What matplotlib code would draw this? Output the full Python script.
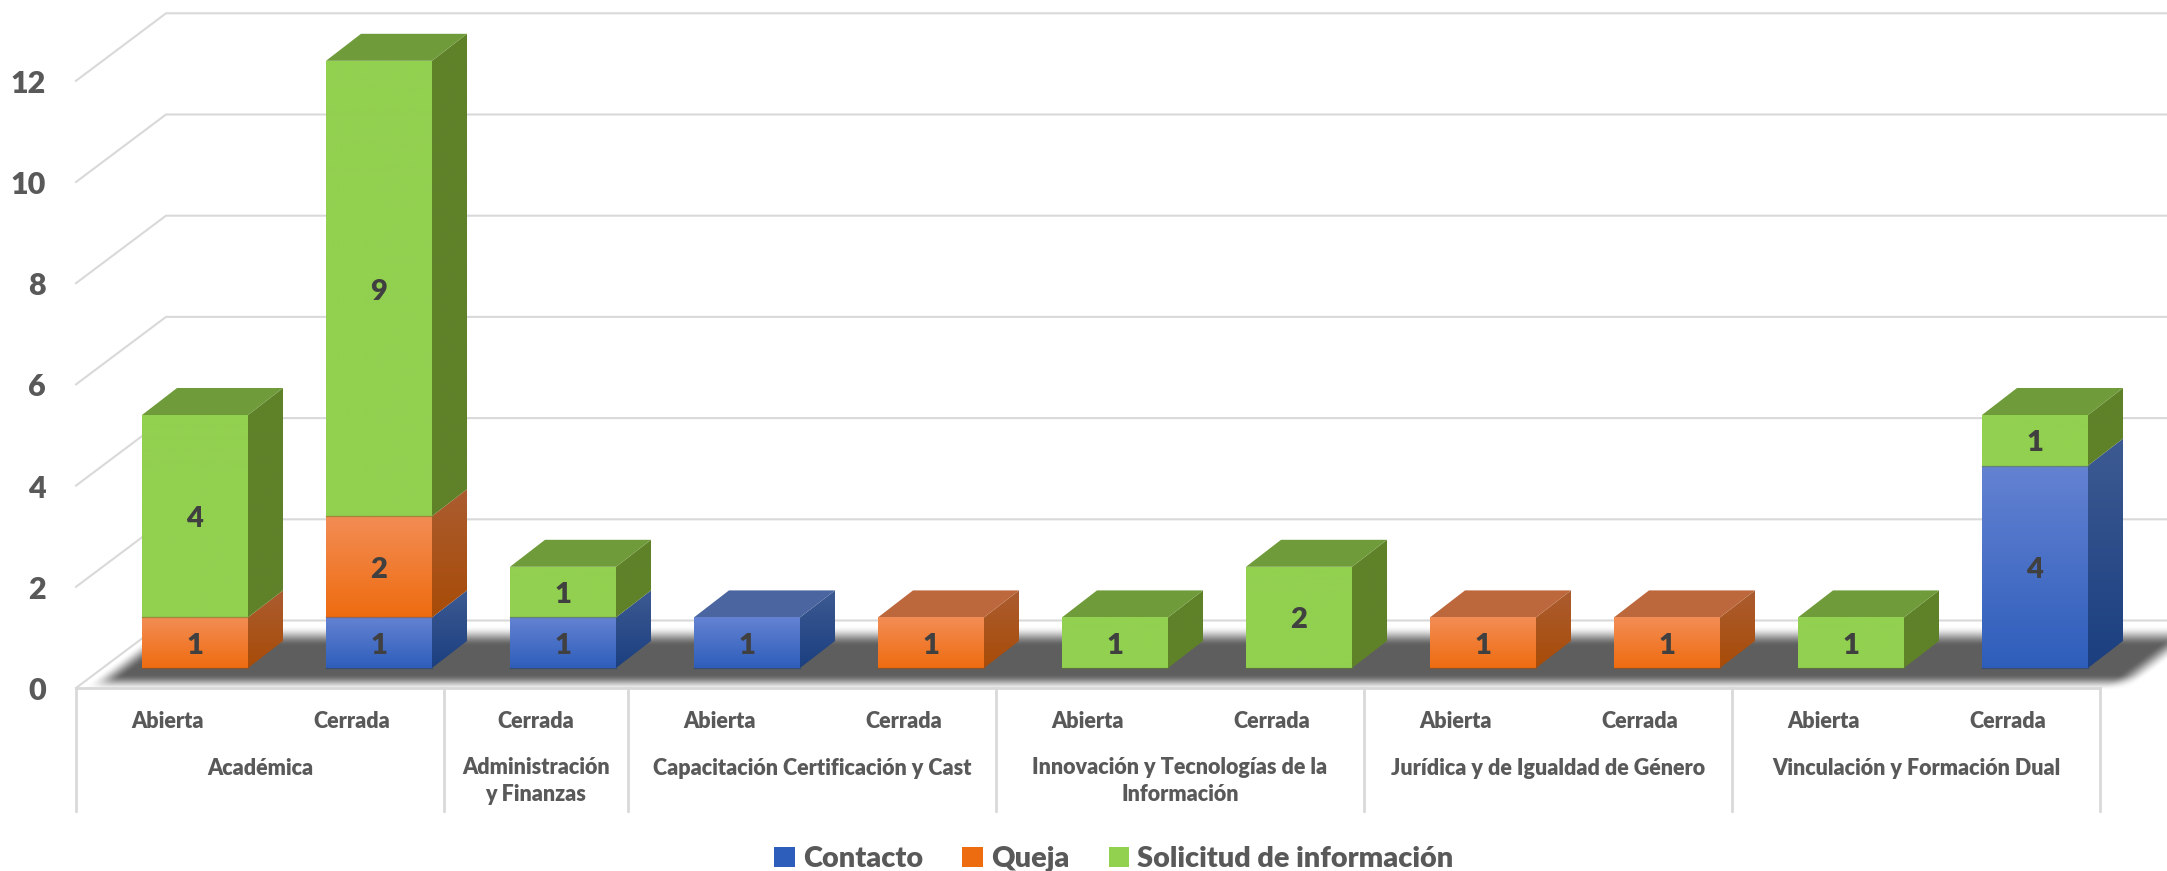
#!/usr/bin/env python3
import numpy as np
import matplotlib
matplotlib.use("Agg")
import matplotlib.pyplot as plt
from matplotlib.patches import Polygon, Patch

plt.rcParams['font.family'] = ['Lato', 'DejaVu Sans']

# data
estados = ["Abierta", "Cerrada", "Cerrada", "Abierta", "Cerrada", "Abierta",
           "Cerrada", "Abierta", "Cerrada", "Abierta", "Cerrada"]
contacto = [0, 1, 1, 1, 0, 0, 0, 0, 0, 0, 4]
queja = [1, 2, 0, 0, 1, 0, 0, 1, 1, 0, 0]
solicitud = [4, 9, 1, 0, 0, 1, 2, 0, 0, 1, 1]
grupos = ["Académica", "Administración\ny Finanzas", "Capacitación Certificación y Cast",
          "Innovación y Tecnologías de la\nInformación", "Jurídica y de Igualdad de Género",
          "Vinculación y Formación Dual"]
grupo_n = [2, 1, 2, 2, 2, 2]
y_ticks = [0, 2, 4, 6, 8, 10, 12]
series = ["Contacto", "Queja", "Solicitud de información"]

# colours: front (top, bottom), side (top, bottom), lid
FRONT = [("#6482d2", "#2e5ebb"), ("#f38d55", "#ee6c10"), ("#92d050", "#92d050")]
SIDE = [("#3d5a92", "#1b3f80"), ("#ab5c30", "#a84c08"), ("#5f8229", "#5f8229")]
LID = ["#4a659f", "#bd683c", "#6f9b3a"]

# layout, pixels of the 2167x871 image
W, H = 2167, 871
STEP = 184.0    # px per bar
UNIT = 50.6     # px per value unit
X0 = 195.0      # px centre of first bar
Y0 = 668.0      # px of value 0 on the bars' front plane
BAR_W = 106.0 / STEP
DX = 35.0 / STEP    # bar depth
DY = 27.0 / UNIT
FLOOR_DY = 20.0 / UNIT      # the chart's front edge sits below the bars
WALL_DX = 90.0 / STEP
WALL_DY = 67.5 / UNIT
LEFT = -119.0 / STEP    # front left corner of the floor
GRID = "#d9d9d9"
WEIGHT = 800
TXT = "#595959"
TEXT_DROP = 3.0 / UNIT  # lato sits a bit high with va=center


def to_x(px):
    return (px - X0) / STEP


def to_y(px):
    return (Y0 - px) / UNIT


def smooth(t):
    t = np.clip(t, 0, 1)
    return t * t * (3 - 2 * t)


def gradient_face(ax, pts, cols, zorder):
    # polygon filled with a vertical gradient
    pts = np.array(pts)
    c0 = np.array(matplotlib.colors.to_rgb(cols[0]))
    c1 = np.array(matplotlib.colors.to_rgb(cols[1]))
    t = np.linspace(0, 1, 64)[:, None]
    img = (c0 * (1 - t) + c1 * t)[:, None, :]
    im = ax.imshow(img, extent=(pts[:, 0].min(), pts[:, 0].max(), pts[:, 1].min(), pts[:, 1].max()),
                   origin="upper", aspect="auto", zorder=zorder, interpolation="bilinear")
    clip = Polygon(pts, closed=True, transform=ax.transData)
    im.set_clip_path(clip)


def draw_bar(ax, i, base, val, s, zorder):
    l = i - BAR_W / 2
    r = i + BAR_W / 2
    top = base + val
    gradient_face(ax, [(r, base), (r + DX, base + DY), (r + DX, top + DY), (r, top)], SIDE[s], zorder)
    gradient_face(ax, [(l, base), (r, base), (r, top), (l, top)], FRONT[s], zorder + 0.1)
    ax.plot([l, r], [base, base], color=SIDE[s][1], lw=1, alpha=0.5, zorder=zorder + 0.2)
    ax.text(i, base + val / 2.0 - TEXT_DROP, str(val), ha="center", va="center", fontsize=21,
            fontweight=WEIGHT, color="#404040", zorder=zorder + 0.3)


def main():
    fig = plt.figure(figsize=(W / 100, H / 100), dpi=100)
    ax = fig.add_axes([0, 0, 1, 1])
    ax.axis("off")
    xmin, xmax = to_x(0), to_x(W)
    ymin, ymax = to_y(H), to_y(0)

    right = LEFT + len(estados)

    # walls
    for v in y_ticks:
        yf = v - FLOOR_DY
        ax.plot([LEFT, LEFT + WALL_DX, xmax], [yf, yf + WALL_DY, yf + WALL_DY], color=GRID,
                lw=1.5, zorder=1, solid_joinstyle="miter")
        ax.text(to_x(46), yf - TEXT_DROP, str(v), ha="right", va="center", fontsize=22,
                fontweight=WEIGHT, color=TXT)

    # shadow on the floor
    xs = np.arange(0, W, 1.0)
    ys = np.arange(600, 700, 1.0)
    px, py = np.meshgrid(xs, ys)
    slope = 90.0 / 67.5
    off = (688 - py) * slope
    a = smooth((py - 626) / 20.0) * smooth((690 - py) / 16.0)
    a = a * smooth((px - (80 + off)) / 28.0) * smooth(((2130 + off) - px) / 30.0)
    rgba = np.zeros(px.shape + (4,))
    rgba[..., :3] = 0.37
    rgba[..., 3] = a
    ax.imshow(rgba, extent=(to_x(0), to_x(W), to_y(700), to_y(600)), origin="upper",
              aspect="auto", zorder=2, interpolation="bilinear")

    # bars
    stack = np.array([contacto, queja, solicitud])
    for i in range(len(estados)):
        base = 0
        last = 0
        for s in range(3):
            val = int(stack[s][i])
            if val == 0:
                continue
            draw_bar(ax, i, base, val, s, 3 + i)
            base += val
            last = s
        l = i - BAR_W / 2
        r = i + BAR_W / 2
        ax.add_patch(Polygon([(l, base), (r, base), (r + DX, base + DY), (l + DX, base + DY)],
                             closed=True, facecolor=LID[last], edgecolor="none", zorder=3 + i + 0.05))

    # category axis table
    yf = -FLOOR_DY
    ax.plot([LEFT, right], [yf, yf], color=GRID, lw=2, zorder=2.5)
    y_low = to_y(811)
    edge = 0
    ax.plot([LEFT, LEFT], [yf, y_low], color=GRID, lw=2)
    for g, n in zip(grupos, grupo_n):
        for k in range(edge, edge + n):
            ax.text(LEFT + k + 0.5, to_y(721), estados[k], ha="center", va="center",
                    fontsize=15.5, fontweight=WEIGHT, color=TXT)
        x_end = LEFT + edge + n
        ax.plot([x_end, x_end], [yf, y_low], color=GRID, lw=2)
        y_txt = to_y(781) if "\n" in g else to_y(768)
        ax.text(LEFT + edge + n / 2.0, y_txt, g, ha="center", va="center", fontsize=15.5,
                fontweight=WEIGHT, color=TXT, linespacing=1.3)
        edge += n

    # legend
    handles = [Patch(facecolor=FRONT[0][1], label=series[0]),
               Patch(facecolor=FRONT[1][1], label=series[1]),
               Patch(facecolor=FRONT[2][0], label=series[2])]
    ax.legend(handles=handles, loc="center", bbox_to_anchor=(1114 / W, 1 - 859 / H), ncol=3, frameon=False,
              prop={"size": 20.8, "weight": WEIGHT, "family": "Lato"}, labelcolor=TXT,
              handlelength=0.7, handleheight=0.7, handletextpad=0.3, columnspacing=1.35,
              borderpad=0, borderaxespad=0)

    ax.set_xlim(xmin, xmax)
    ax.set_ylim(ymin, ymax)
    fig.savefig("out.png", dpi=100, facecolor="white")


if __name__ == '__main__':
    main()
